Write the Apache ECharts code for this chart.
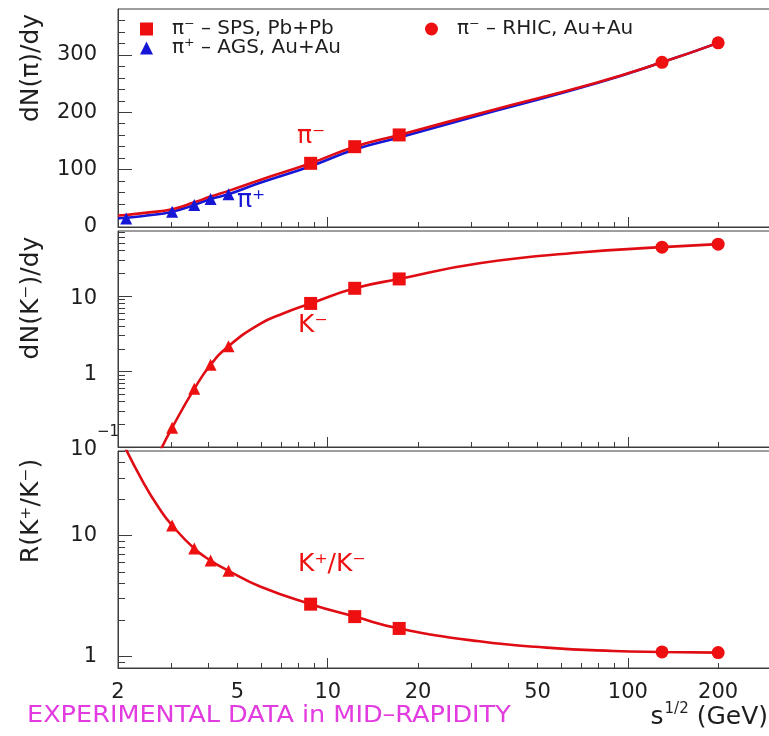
<!DOCTYPE html>
<html>
<head>
<meta charset="utf-8">
<script src="https://cdn.jsdelivr.net/npm/echarts@6/dist/echarts.min.js"></script>
<style>
  html, body { margin: 0; padding: 0; background: #ffffff; }
  #chart { width: 769px; height: 736px; }
</style>
</head>
<body>
<div id="chart"></div>
<script>
// Collision energy sqrt(s_NN) in GeV of the measured points
const sqrtsAGS = [2.13, 3.03, 3.59, 4.07, 4.67];
const sqrtsAGSKaon = [3.03, 3.59, 4.07, 4.67];
const sqrtsSPS = [8.77, 12.3, 17.3];
const sqrtsRHIC = [130, 200];

// Pion rapidity density at mid-rapidity
const piPlusAGS = [15, 26.7, 38.5, 49, 57];
const piMinusSPS = [111, 140, 160.5];
const piMinusRHIC = [287, 321];

// K- rapidity density at mid-rapidity
const kMinusAGS = [0.18, 0.59, 1.23, 2.17];
const kMinusSPS = [8.0, 12.7, 16.9];
const kMinusRHIC = [44.6, 48.9];

// K+/K- ratio
const kRatioAGS = [12.1, 7.8, 6.2, 5.1];
const kRatioSPS = [2.70, 2.13, 1.70];
const kRatioRHIC = [1.086, 1.073];

// Model curves
const piMinusCurveX = [2.0, 2.13, 2.5, 3.03, 3.59, 4.07, 4.67, 5.95, 8.77, 12.3, 17.3, 36, 78, 130, 200];
const piMinusCurveY = [20, 21, 25, 31, 43, 53, 63, 82, 111, 140, 160.5, 205, 251, 287, 321];
const piPlusCurveX = [2.0, 2.13, 2.5, 3.03, 3.59, 4.07, 4.67, 5.95, 8.77, 12.3, 17.3, 36, 78, 130, 200];
const piPlusCurveY = [15, 16, 20, 26.7, 38.5, 49, 57, 77, 106, 135, 156, 202, 250, 287, 321];
const kMinusCurveX = [2.72, 3.03, 3.59, 4.07, 4.67, 5.95, 7.1, 8.77, 12.3, 17.3, 32, 69, 130, 200];
const kMinusCurveY = [0.078, 0.18, 0.59, 1.23, 2.17, 4.28, 5.88, 8.0, 12.7, 16.9, 27.3, 37.8, 44.6, 48.9];
const kRatioCurveX = [2.05, 2.43, 2.76, 3.03, 3.59, 4.07, 4.67, 5.95, 8.77, 12.3, 17.3, 32, 53.6, 89.5, 130, 200];
const kRatioCurveY = [62, 27.4, 16.4, 12.1, 7.8, 6.2, 5.1, 3.78, 2.70, 2.13, 1.70, 1.33, 1.18, 1.107, 1.086, 1.073];

// Axis ticks and labels
const xLabelValues = [2, 5, 10, 20, 50, 100, 200];
const xMajorTicks = [10, 100];
const xMinorTicks = [3, 4, 5, 6, 7, 8, 9, 20, 30, 40, 50, 60, 70, 80, 90, 200, 300];
const piLabels = [0, 100, 200, 300];
const piMinorTicks = [20, 40, 60, 80, 120, 140, 160, 180, 220, 240, 260, 280, 320, 340, 360];
const kMinusLabels = [0.1, 1, 10];
const kMinusMinorTicks = [0.2, 0.3, 0.4, 0.5, 0.6, 0.7, 0.8, 0.9, 2, 3, 4, 5, 6, 7, 8, 9, 20, 30, 40, 50, 60, 70];
const kRatioLabels = [1, 10];
const kRatioMinorTicks = [0.8, 0.9, 2, 3, 4, 5, 6, 7, 8, 9, 20, 30, 40, 50];

const FONT = 'DejaVu Sans';
const INK = '#1e1e1e';
const FRAME = '#3c3c3c';
const RED = '#ee1010';
const LINE_RED = '#e00c14';
const BLUE = '#1616d6';
const MAGENTA = '#e23ce0';

const pair = (xs, ys) => xs.map((x, k) => [x, ys[k]]);

const chart = echarts.init(document.getElementById('chart'), null, { renderer: 'canvas' });

const gridBoxes = [
  { left: 118, top: 9, width: 653, height: 218 },
  { left: 118, top: 231, width: 653, height: 216 },
  { left: 118, top: 451, width: 653, height: 217 }
];

const grid = gridBoxes.map(b => Object.assign({
  show: true, borderColor: FRAME, borderWidth: 1, backgroundColor: 'transparent',
  containLabel: false, outerBoundsMode: 'none'
}, b));

const tickLine = { color: FRAME, width: 1 };

function xAxesFor(panel, withLabels) {
  return [
    {
      type: 'log', logBase: 10, gridIndex: panel, min: 2, max: 300, position: 'bottom',
      axisLine: { show: true, onZero: false, lineStyle: tickLine },
      axisTick: { show: true, inside: true, length: 10, customValues: xMajorTicks, lineStyle: tickLine },
      axisLabel: {
        show: withLabels, customValues: xLabelValues, margin: 14,
        fontFamily: FONT, fontSize: 21, color: INK, formatter: v => String(Math.round(v))
      },
      splitLine: { show: false }, minorTick: { show: false }
    },
    {
      type: 'log', logBase: 10, gridIndex: panel, min: 2, max: 300, position: 'bottom',
      axisLine: { show: false },
      axisTick: { show: true, inside: true, length: 5, customValues: xMinorTicks, lineStyle: tickLine },
      axisLabel: { show: false }, splitLine: { show: false }
    }
  ];
}

function yAxesFor(panel, cfg) {
  const base = { type: cfg.type, gridIndex: panel, min: cfg.min, max: cfg.max, position: 'left' };
  if (cfg.type === 'log') base.logBase = 10;
  return [
    Object.assign({}, base, {
      axisLine: { show: true, onZero: false, lineStyle: tickLine },
      axisTick: { show: true, inside: true, length: 14, customValues: cfg.labels, lineStyle: tickLine },
      axisLabel: {
        customValues: cfg.labels, margin: 21, fontFamily: FONT, fontSize: 21, color: INK,
        padding: [5, 0, 0, 0], formatter: cfg.formatter, rich: cfg.rich
      },
      splitLine: { show: false }
    }),
    Object.assign({}, base, {
      axisLine: { show: false },
      axisTick: { show: true, inside: true, length: 7, customValues: cfg.minor, lineStyle: tickLine },
      axisLabel: { show: false }, splitLine: { show: false }
    })
  ];
}

const xAxis = [].concat(xAxesFor(0, false), xAxesFor(1, false), xAxesFor(2, true));
const yAxis = [].concat(
  yAxesFor(0, { type: 'value', min: 0, max: 380, labels: piLabels, minor: piMinorTicks,
    formatter: v => String(Math.round(v)) }),
  yAxesFor(1, { type: 'log', min: 0.1, max: 73, labels: kMinusLabels, minor: kMinusMinorTicks,
    formatter: v => (v < 0.5 ? '{b|10}{e|−1}' : String(Math.round(v))),
    rich: {
      b: { fontFamily: FONT, fontSize: 21, color: INK, align: 'left' },
      e: { fontFamily: FONT, fontSize: 15, color: INK, align: 'left', width: 0, padding: [0, 0, 34, 0] }
    } }),
  yAxesFor(2, { type: 'log', min: 0.8, max: 50, labels: kRatioLabels, minor: kRatioMinorTicks,
    formatter: v => String(Math.round(v)) })
);

function curve(name, xs, ys, panel, color, z) {
  return {
    type: 'line', name, xAxisIndex: 2 * panel, yAxisIndex: 2 * panel,
    data: pair(xs, ys), smooth: 0.5, symbol: 'none', showSymbol: false,
    lineStyle: { color, width: 2.6 }, itemStyle: { color }, z, silent: true, clip: true
  };
}
function markers(name, xs, ys, panel, symbol, size, color) {
  return {
    type: 'scatter', name, xAxisIndex: 2 * panel, yAxisIndex: 2 * panel,
    data: pair(xs, ys), symbol, symbolSize: size,
    itemStyle: { color, opacity: 1 }, z: 5, silent: true
  };
}

const series = [
  curve('π⁺ model', piPlusCurveX, piPlusCurveY, 0, BLUE, 2),
  curve('π⁻ model', piMinusCurveX, piMinusCurveY, 0, LINE_RED, 3),
  markers('π⁺ – AGS, Au+Au', sqrtsAGS, piPlusAGS, 0, 'triangle', 12, BLUE),
  markers('π⁻ – SPS, Pb+Pb', sqrtsSPS, piMinusSPS, 0, 'rect', 13, RED),
  markers('π⁻ – RHIC, Au+Au', sqrtsRHIC, piMinusRHIC, 0, 'circle', 13, RED),

  curve('K⁻ model', kMinusCurveX, kMinusCurveY, 1, LINE_RED, 3),
  markers('K⁻ AGS', sqrtsAGSKaon, kMinusAGS, 1, 'triangle', 12, RED),
  markers('K⁻ SPS', sqrtsSPS, kMinusSPS, 1, 'rect', 13, RED),
  markers('K⁻ RHIC', sqrtsRHIC, kMinusRHIC, 1, 'circle', 13, RED),

  curve('K⁺/K⁻ model', kRatioCurveX, kRatioCurveY, 2, LINE_RED, 3),
  markers('K⁺/K⁻ AGS', sqrtsAGSKaon, kRatioAGS, 2, 'triangle', 12, RED),
  markers('K⁺/K⁻ SPS', sqrtsSPS, kRatioSPS, 2, 'rect', 13, RED),
  markers('K⁺/K⁻ RHIC', sqrtsRHIC, kRatioRHIC, 2, 'circle', 13, RED)
];

const legendText = { fontFamily: FONT, fontSize: 20, color: INK, padding: [0, 0, 0, 14] };

const legend = [
  {
    orient: 'vertical', left: 135, top: 14, itemWidth: 13, itemHeight: 13, itemGap: -1,
    selectedMode: false, textStyle: legendText,
    data: [{ name: 'π⁻ – SPS, Pb+Pb', icon: 'rect' }, { name: 'π⁺ – AGS, Au+Au', icon: 'triangle' }]
  },
  {
    orient: 'vertical', left: 420, top: 14, itemWidth: 13, itemHeight: 13,
    selectedMode: false, textStyle: legendText,
    data: [{ name: 'π⁻ – RHIC, Au+Au', icon: 'circle' }]
  }
];

function label(x, y, text, size, color, extra) {
  return Object.assign({
    type: 'text', x, y, silent: true,
    style: {
      text, fill: color, font: size + 'px "' + FONT + '"',
      align: 'left', verticalAlign: 'middle', textAlign: 'left', textVerticalAlign: 'middle'
    }
  }, extra || {});
}
function title(x, y, text) {
  return {
    type: 'text', x, y, rotation: Math.PI / 2, silent: true,
    style: {
      text, fill: INK, font: '25px "' + FONT + '"',
      align: 'center', verticalAlign: 'middle', textAlign: 'center', textVerticalAlign: 'middle'
    }
  };
}

const graphic = [
  title(31, 68, 'dN(π)/dy'),
  title(31, 298, 'dN(K⁻)/dy'),
  title(31, 511, 'R(K⁺/K⁻)'),
  label(297, 136, 'π⁻', 25, RED),
  label(237, 200, 'π⁺', 25, BLUE),
  label(298, 325, 'K⁻', 25, RED),
  label(298, 564, 'K⁺/K⁻', 25, RED),
  label(27, 716, 'EXPERIMENTAL DATA in MID–RAPIDITY', 23, MAGENTA, { scaleX: 1.11 }),
  {
    type: 'text', x: 768, y: 717, silent: true,
    style: {
      text: '{s|s}{u|1/2}{t| (GeV)}', align: 'right', verticalAlign: 'middle',
      textAlign: 'right', textVerticalAlign: 'middle',
      rich: {
        s: { fontFamily: FONT, fontSize: 25, fill: INK, color: INK },
        u: { fontFamily: FONT, fontSize: 15, fill: INK, color: INK, padding: [0, 0, 16, 1] },
        t: { fontFamily: FONT, fontSize: 25, fill: INK, color: INK }
      }
    }
  }
];

chart.setOption({
  animation: false,
  backgroundColor: '#ffffff',
  grid, xAxis, yAxis, series, legend, graphic
});
</script>
</body>
</html>
